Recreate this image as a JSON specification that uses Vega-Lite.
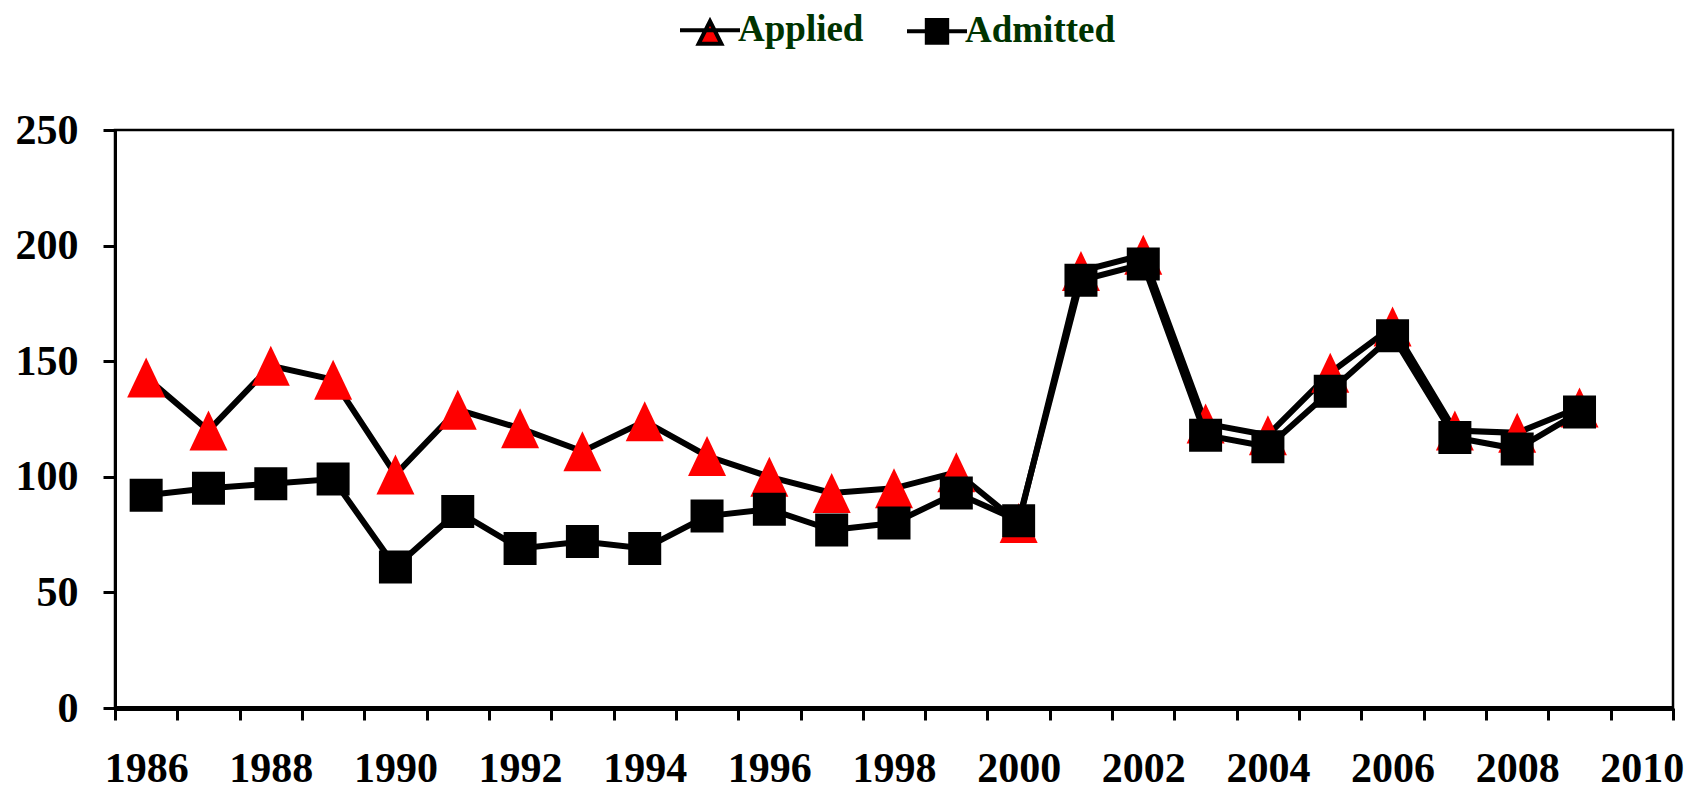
{
  "$schema": "https://vega.github.io/schema/vega-lite/v6.json",
  "autosize": {"type": "none"},
  "padding": {"left": 115, "top": 130, "right": 33, "bottom": 83},
  "width": 1558,
  "height": 578,
  "background": "white",
  "config": {
    "view": {"stroke": "black", "strokeWidth": 2.5},
    "font": "Liberation Serif"
  },
  "data": {
    "values": [
      {"year": 1986, "series": "Applied", "value": 143},
      {"year": 1987, "series": "Applied", "value": 120},
      {"year": 1988, "series": "Applied", "value": 148},
      {"year": 1989, "series": "Applied", "value": 142},
      {"year": 1990, "series": "Applied", "value": 101},
      {"year": 1991, "series": "Applied", "value": 129},
      {"year": 1992, "series": "Applied", "value": 121},
      {"year": 1993, "series": "Applied", "value": 111},
      {"year": 1994, "series": "Applied", "value": 124},
      {"year": 1995, "series": "Applied", "value": 109},
      {"year": 1996, "series": "Applied", "value": 100},
      {"year": 1997, "series": "Applied", "value": 93},
      {"year": 1998, "series": "Applied", "value": 95},
      {"year": 1999, "series": "Applied", "value": 102},
      {"year": 2000, "series": "Applied", "value": 80},
      {"year": 2001, "series": "Applied", "value": 189},
      {"year": 2002, "series": "Applied", "value": 196},
      {"year": 2003, "series": "Applied", "value": 123},
      {"year": 2004, "series": "Applied", "value": 118},
      {"year": 2005, "series": "Applied", "value": 145},
      {"year": 2006, "series": "Applied", "value": 165},
      {"year": 2007, "series": "Applied", "value": 120},
      {"year": 2008, "series": "Applied", "value": 119},
      {"year": 2009, "series": "Applied", "value": 130},
      {"year": 1986, "series": "Admitted", "value": 92},
      {"year": 1987, "series": "Admitted", "value": 95},
      {"year": 1988, "series": "Admitted", "value": 97},
      {"year": 1989, "series": "Admitted", "value": 99},
      {"year": 1990, "series": "Admitted", "value": 61},
      {"year": 1991, "series": "Admitted", "value": 85},
      {"year": 1992, "series": "Admitted", "value": 69},
      {"year": 1993, "series": "Admitted", "value": 72},
      {"year": 1994, "series": "Admitted", "value": 69},
      {"year": 1995, "series": "Admitted", "value": 83},
      {"year": 1996, "series": "Admitted", "value": 86},
      {"year": 1997, "series": "Admitted", "value": 77},
      {"year": 1998, "series": "Admitted", "value": 80},
      {"year": 1999, "series": "Admitted", "value": 93},
      {"year": 2000, "series": "Admitted", "value": 81},
      {"year": 2001, "series": "Admitted", "value": 185},
      {"year": 2002, "series": "Admitted", "value": 192},
      {"year": 2003, "series": "Admitted", "value": 118},
      {"year": 2004, "series": "Admitted", "value": 113},
      {"year": 2005, "series": "Admitted", "value": 137},
      {"year": 2006, "series": "Admitted", "value": 161},
      {"year": 2007, "series": "Admitted", "value": 117},
      {"year": 2008, "series": "Admitted", "value": 112},
      {"year": 2009, "series": "Admitted", "value": 128}
    ]
  },
  "encoding": {
    "x": {
      "field": "year",
      "type": "ordinal",
      "scale": {
        "type": "band",
        "domain": [1986, 1987, 1988, 1989, 1990, 1991, 1992, 1993, 1994, 1995, 1996, 1997, 1998, 1999, 2000, 2001, 2002, 2003, 2004, 2005, 2006, 2007, 2008, 2009, 2010],
        "paddingInner": 0,
        "paddingOuter": 0
      },
      "axis": {
        "title": null,
        "labelExpr": "datum.value % 2 === 0 ? datum.label : ''",
        "labelAngle": 0,
        "tickBand": "extent",
        "tickSize": 12,
        "tickWidth": 3,
        "tickColor": "black",
        "domainColor": "black",
        "domainWidth": 5,
        "labelFont": "Liberation Serif",
        "labelFontSize": 42,
        "labelFontWeight": "bold",
        "labelColor": "black",
        "labelPadding": 28,
        "grid": false
      }
    },
    "y": {
      "field": "value",
      "type": "quantitative",
      "scale": {"domain": [0, 250], "nice": false},
      "axis": {
        "title": null,
        "values": [0, 50, 100, 150, 200, 250],
        "grid": false,
        "tickSize": 12,
        "tickWidth": 3,
        "tickColor": "black",
        "domainColor": "black",
        "domainWidth": 3,
        "labelFont": "Liberation Serif",
        "labelFontSize": 42,
        "labelFontWeight": "bold",
        "labelColor": "black",
        "labelPadding": 25
      }
    }
  },
  "layer": [
    {
      "transform": [{"filter": "false"}],
      "mark": {"type": "point", "filled": true, "opacity": 1, "strokeWidth": 4},
      "encoding": {
        "fill": {
          "field": "series", "type": "nominal",
          "scale": {"domain": ["Applied", "Admitted"], "range": ["#ff0000", "#000000"]},
          "legend": {
            "orient": "none",
            "legendX": 563,
            "legendY": -132,
            "direction": "horizontal",
            "title": null,
            "padding": 0,
            "symbolSize": 3600,
            "symbolStrokeWidth": 4,
            "symbolOpacity": 1,
            "labelFont": "Liberation Serif",
            "labelFontSize": 37,
            "labelFontWeight": "bold",
            "labelColor": "#003300",
            "labelOffset": -4,
            "columnPadding": 35
          }
        },
        "stroke": {
          "field": "series", "type": "nominal",
          "scale": {"domain": ["Applied", "Admitted"], "range": ["#000000", "#000000"]},
          "legend": {
            "orient": "none",
            "legendX": 563,
            "legendY": -132,
            "direction": "horizontal",
            "title": null,
            "padding": 0,
            "symbolSize": 3600,
            "symbolStrokeWidth": 4,
            "symbolOpacity": 1,
            "labelFont": "Liberation Serif",
            "labelFontSize": 37,
            "labelFontWeight": "bold",
            "labelColor": "#003300",
            "labelOffset": -4,
            "columnPadding": 35
          }
        },
        "shape": {
          "field": "series", "type": "nominal",
          "scale": {"domain": ["Applied", "Admitted"], "range": ["M-1,0H1M0,-0.3L0.38,0.45L-0.38,0.45Z", "M-1,0H1M-0.34,-0.38H0.34V0.38H-0.34Z"]},
          "legend": {
            "orient": "none",
            "legendX": 563,
            "legendY": -132,
            "direction": "horizontal",
            "title": null,
            "padding": 0,
            "symbolSize": 3600,
            "symbolStrokeWidth": 4,
            "symbolOpacity": 1,
            "labelFont": "Liberation Serif",
            "labelFontSize": 37,
            "labelFontWeight": "bold",
            "labelColor": "#003300",
            "labelOffset": -4,
            "columnPadding": 35
          }
        }
      }
    },
    {
      "transform": [{"filter": "datum.series === 'Applied'"}],
      "mark": {"type": "line", "color": "black", "strokeWidth": 6}
    },
    {
      "transform": [{"filter": "datum.series === 'Applied'"}],
      "mark": {"type": "point", "filled": true, "opacity": 1, "size": 1600, "strokeWidth": 0, "shape": "M0,-1L0.95,1L-0.95,1Z", "color": "#ff0000"}
    },
    {
      "transform": [{"filter": "datum.series === 'Admitted'"}],
      "mark": {"type": "line", "color": "black", "strokeWidth": 6}
    },
    {
      "transform": [{"filter": "datum.series === 'Admitted'"}],
      "mark": {"type": "point", "filled": true, "opacity": 1, "size": 1089, "strokeWidth": 0, "shape": "square", "color": "#000000"}
    }
  ]
}
